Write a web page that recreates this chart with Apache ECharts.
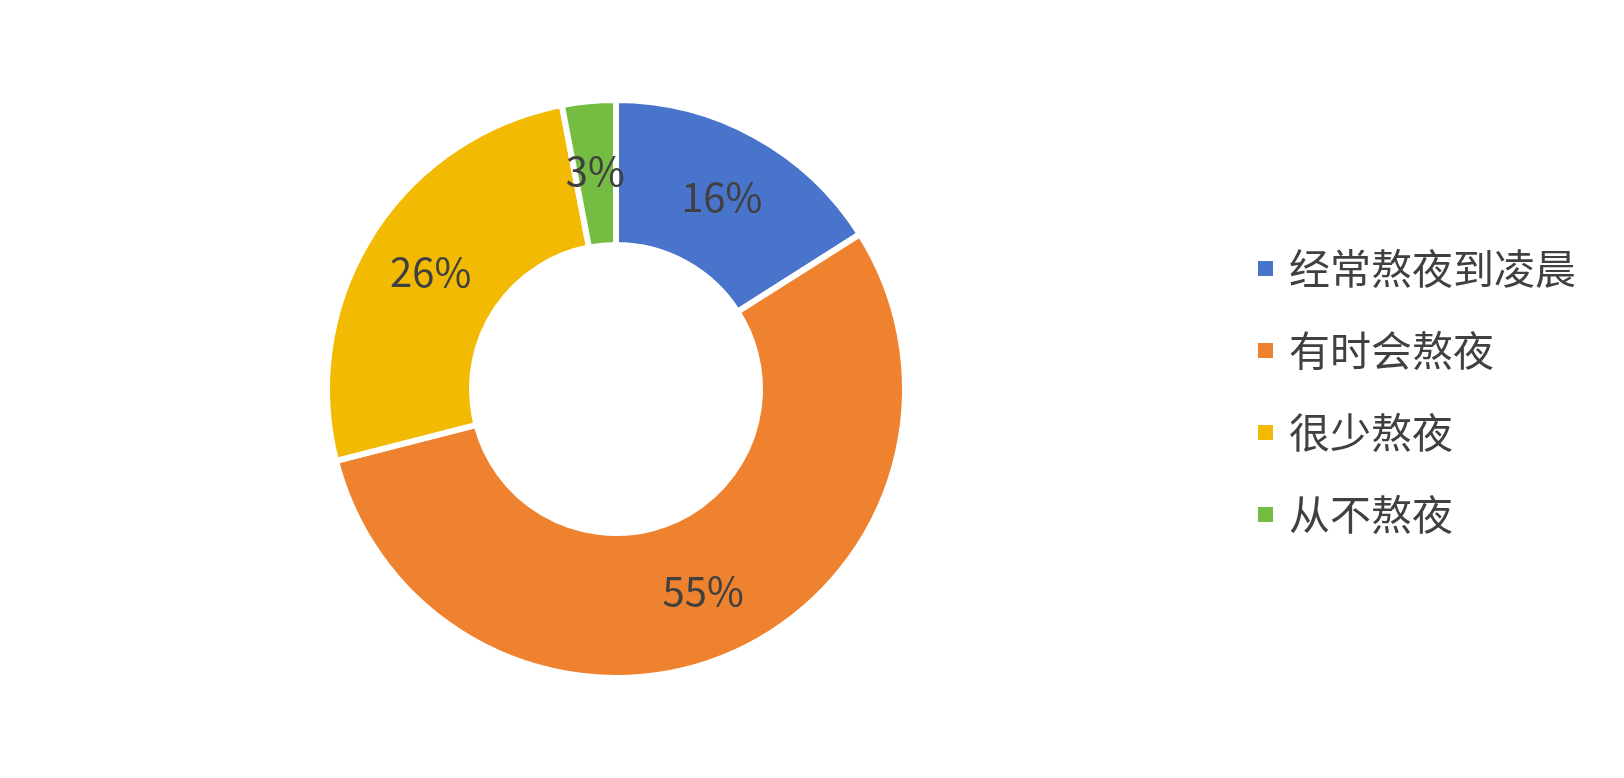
<!DOCTYPE html>
<html>
<head>
<meta charset="utf-8">
<script src="https://cdn.jsdelivr.net/npm/echarts@6/dist/echarts.min.js"></script>
<style>
html,body{margin:0;padding:0;background:#fff;}
#c{width:1624px;height:778px;}
</style>
</head>
<body>
<div id="c"></div>
<script>
const categories = ['经常熬夜到凌晨', '有时会熬夜', '很少熬夜', '从不熬夜'];
const values = [16, 55, 26, 3];
const colors = ['#4874CB', '#EE822F', '#F2BA02', '#75BD42'];

const chart = echarts.init(document.getElementById('c'));
const font = '"Noto Sans CJK SC", "Noto Sans", sans-serif';
chart.setOption({
  animation: false,
  color: colors,
  legend: {
    orient: 'vertical',
    left: 1251,
    top: 243,
    icon: 'rect',
    itemWidth: 17,
    itemHeight: 17,
    itemGap: 41,
    data: categories,
    textStyle: { fontSize: 41, color: '#404040', fontFamily: font, lineHeight: 41, padding: [0, 0, 0, 10] }
  },
  series: [{
    type: 'pie',
    center: [616, 389],
    radius: [144, 289],
    startAngle: 90,
    clockwise: true,
    itemStyle: { borderColor: '#ffffff', borderWidth: 6 },
    label: {
      show: true,
      position: 'inside',
      formatter: '{d}%',
      fontSize: 40,
      color: '#404040',
      fontFamily: font
    },
    labelLine: { show: false },
    emphasis: { disabled: true },
    data: categories.map((n, i) => ({ name: n, value: values[i] }))
  }]
});
</script>
</body>
</html>
